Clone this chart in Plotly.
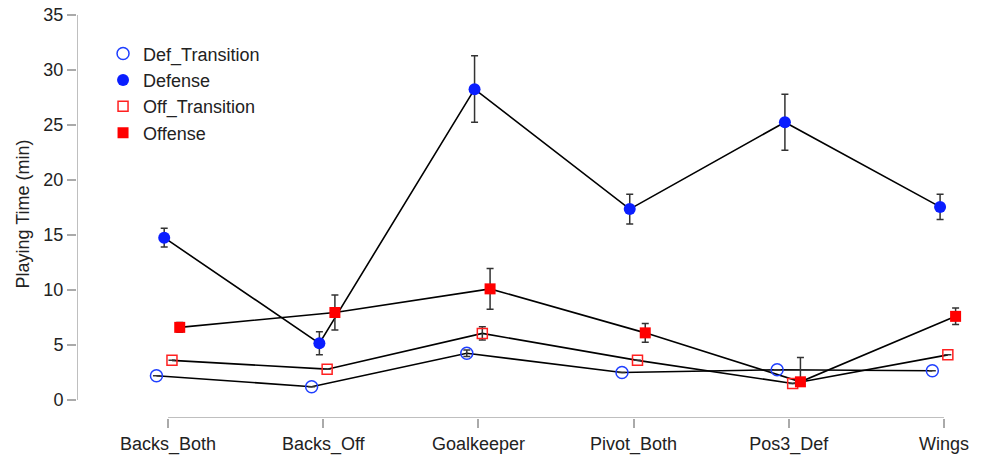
import plotly.graph_objects as go

categories = ["Backs_Both", "Backs_Off", "Goalkeeper", "Pivot_Both", "Pos3_Def", "Wings"]
series_names = ["Def_Transition", "Defense", "Off_Transition", "Offense"]

def_transition = [2.2, 1.2, 4.25, 2.5, 2.75, 2.65]
defense = [14.75, 5.15, 28.25, 17.35, 25.25, 17.55]
off_transition = [3.6, 2.8, 6.05, 3.6, 1.5, 4.1]
offense = [6.6, 7.95, 10.1, 6.1, 1.65, 7.6]

# error bar half-widths (None = too small to be visible)
def_transition_err_up = [None, None, 0.3, None, None, None]
def_transition_err_dn = [None, None, 0.3, None, None, None]
defense_err_up = [0.85, 1.05, 3.05, 1.35, 2.55, 1.15]
defense_err_dn = [0.85, 1.05, 3.0, 1.35, 2.55, 1.15]
off_transition_err_up = [None, None, 0.6, None, None, None]
off_transition_err_dn = [None, None, 0.6, None, None, None]
offense_err_up = [0.45, 1.6, 1.85, 0.85, 2.2, 0.75]
offense_err_dn = [0.45, 1.6, 1.85, 0.85, 0.1, 0.75]

y_ticks = [0, 5, 10, 15, 20, 25, 30, 35]

values = [def_transition, defense, off_transition, offense]
errs_up = [def_transition_err_up, defense_err_up, off_transition_err_up, offense_err_up]
errs_dn = [def_transition_err_dn, defense_err_dn, off_transition_err_dn, offense_err_dn]
dodge = [-0.075, -0.025, 0.025, 0.075]
markers = [
    dict(symbol="circle-open", color="#1f3fff", size=12, line=dict(width=1.5, color="#1f3fff")),
    dict(symbol="circle", color="#0a1eff", size=12, line=dict(width=0)),
    dict(symbol="square-open", color="#ff2020", size=10, line=dict(width=1.5, color="#ff2020")),
    dict(symbol="square", color="#ff0000", size=11, line=dict(width=0)),
]

fig = go.Figure()
xpos = list(range(len(categories)))

# connecting lines
for vals, d in zip(values, dodge):
    fig.add_trace(go.Scatter(
        x=[i + d for i in xpos], y=vals, mode="lines",
        line=dict(color="black", width=1.6), showlegend=False, hoverinfo="skip"))

# markers with error bars
for name, vals, d, mk, eu, ed in zip(series_names, values, dodge, markers, errs_up, errs_dn):
    fig.add_trace(go.Scatter(
        x=[i + d for i in xpos], y=vals, mode="markers", name=name, marker=mk,
        error_y=dict(type="data", array=eu, arrayminus=ed, color="#333333",
                     thickness=1.5, width=3.5)))

x_lo, x_hi = -0.587, 5.2
y_lo, y_hi = -1.64, 35.45

fig.update_layout(
    width=983, height=455,
    margin=dict(l=77, r=8, t=10, b=37),
    paper_bgcolor="white", plot_bgcolor="white",
    font=dict(family="Liberation Sans, Arial, sans-serif", size=18, color="#222222"),
    showlegend=True,
    legend=dict(x=0.029, y=0.938, xanchor="left", yanchor="top",
                bgcolor="rgba(0,0,0,0)", font=dict(size=18, color="#222222"),
                tracegroupgap=0, itemwidth=30),
    xaxis=dict(range=[x_lo, x_hi], tickvals=xpos, ticktext=categories,
               showgrid=False, zeroline=False, showline=False, automargin=False,
               ticks="outside", ticklen=9, tickcolor="#aaaaaa", tickwidth=1.5,
               tickfont=dict(size=18, color="#222222")),
    yaxis=dict(range=[y_lo, y_hi], tickvals=y_ticks,
               showgrid=False, zeroline=False, showline=False, automargin=False,
               ticks="outside", ticklen=9, tickcolor="#aaaaaa", tickwidth=1.5,
               tickfont=dict(size=18, color="#222222"),
               title=dict(text="Playing Time (min)", font=dict(size=18, color="#222222"), standoff=9)),
)

# R-style axis lines spanning only first to last tick
fig.add_shape(type="line", xref="x", yref="y", x0=x_lo, x1=x_lo, y0=y_ticks[0], y1=y_ticks[-1],
              line=dict(color="#aaaaaa", width=1.5))
fig.add_shape(type="line", xref="x", yref="y", x0=xpos[0], x1=xpos[-1], y0=y_lo, y1=y_lo,
              line=dict(color="#aaaaaa", width=1.5))

fig.write_html("out.html", config={"displayModeBar": False},
               post_script="document.body.style.margin='0';document.body.style.overflow='hidden';")
